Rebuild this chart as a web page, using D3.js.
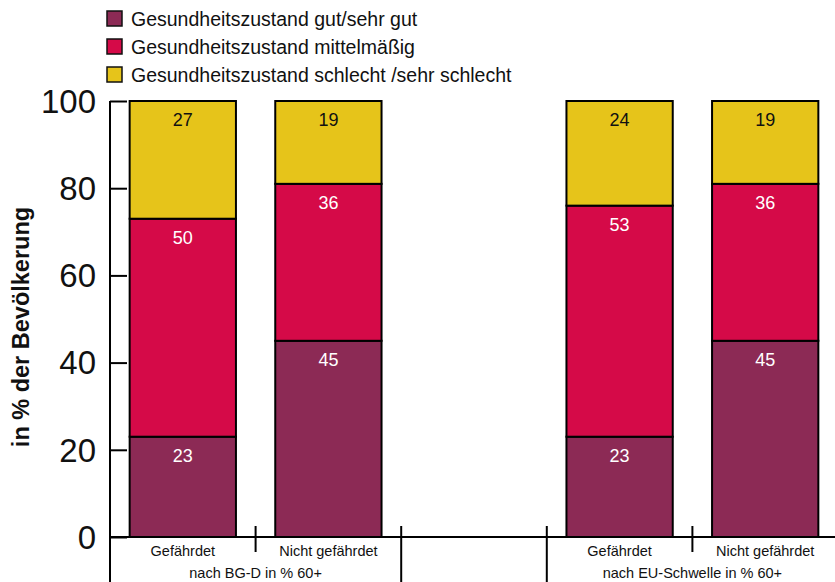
<!DOCTYPE html>
<html>
<head>
<meta charset="utf-8">
<script src="https://cdn.jsdelivr.net/npm/d3@7"></script>
<style>
  body { margin: 0; background: #fff; }
  text { font-family: "Liberation Sans", Arial, sans-serif; }
</style>
</head>
<body>
<script>
const categories = ['Gefährdet', 'Nicht gefährdet', '', 'Gefährdet', 'Nicht gefährdet'];
const groups = ['nach BG-D in % 60+', 'nach EU-Schwelle in % 60+'];
const seriesNames = [
  'Gesundheitszustand gut/sehr gut',
  'Gesundheitszustand mittelmäßig',
  'Gesundheitszustand schlecht /sehr schlecht',
];
const gut = [23, 45, null, 23, 45];
const mittel = [50, 36, null, 53, 36];
const schlecht = [27, 19, null, 24, 19];
const yTicks = [0, 20, 40, 60, 80, 100];

const colors = ['#8c2a55', '#d50a48', '#e6c41a'];
const labelColors = ['#fff', '#fff', '#111'];

const width = 835;
const height = 582;

const svg = d3.select('body')
  .append('svg')
  .attr('width', width)
  .attr('height', height);

const keys = categories.map((c, i) => `k${i}`);
const x = d3.scaleBand()
  .domain(keys)
  .range([110, 838])
  .paddingInner(0.27)
  .paddingOuter(0.135);

const bandStep = (838 - 110) / 5;
const y = d3.scaleLinear()
  .domain([0, 100])
  .range([537, 101]);

// stacked data
const rows = keys.map((k, i) => ({
  key: k, s0: gut[i], s1: mittel[i], s2: schlecht[i],
})).filter((d) => d.s0 !== null);
const stack = d3.stack().keys(['s0', 's1', 's2'])(rows);

// y axis (ticks pointing inward)
const yAxis = d3.axisRight(y).tickValues(yTicks).tickSize(17).tickFormat('');
const yg = svg.append('g')
  .attr('transform', 'translate(110,0)')
  .call(yAxis);
yg.select('.domain').remove();
yg.selectAll('.tick line').attr('stroke', '#000').attr('stroke-width', 2);
svg.append('line')
  .attr('x1', 110).attr('x2', 110)
  .attr('y1', y(100)).attr('y2', 582)
  .attr('stroke', '#000').attr('stroke-width', 2);

svg.selectAll('.ylab')
  .data(yTicks)
  .enter().append('text')
  .attr('class', 'ylab')
  .attr('x', 96)
  .attr('y', (d) => y(d))
  .attr('dy', '0.36em')
  .attr('text-anchor', 'end')
  .style('font-size', '33px')
  .attr('fill', '#111')
  .text((d) => d);

svg.append('text')
  .attr('transform', 'translate(29,327) rotate(-90)')
  .attr('text-anchor', 'middle')
  .style('font-size', '23.5px')
  .style('font-weight', 'bold')
  .attr('fill', '#111')
  .text('in % der Bevölkerung');

// bars
const layer = svg.selectAll('.layer')
  .data(stack)
  .enter().append('g')
  .attr('class', 'layer');

layer.selectAll('rect')
  .data((d, i) => d.map((p) => ({ p, i })))
  .enter().append('rect')
  .attr('x', (d) => x(d.p.data.key))
  .attr('width', x.bandwidth())
  .attr('y', (d) => y(d.p[1]))
  .attr('height', (d) => y(d.p[0]) - y(d.p[1]))
  .attr('fill', (d) => colors[d.i])
  .attr('stroke', '#000')
  .attr('stroke-width', 2);

layer.selectAll('text')
  .data((d, i) => d.map((p) => ({ p, i })))
  .enter().append('text')
  .attr('x', (d) => x(d.p.data.key) + x.bandwidth() / 2)
  .attr('y', (d) => y(d.p[1]) + 25)
  .attr('text-anchor', 'middle')
  .style('font-size', '18px')
  .attr('fill', (d) => labelColors[d.i])
  .text((d) => d.p[1] - d.p[0]);

// baseline
svg.append('line')
  .attr('x1', 110).attr('x2', 835)
  .attr('y1', y(0)).attr('y2', y(0))
  .attr('stroke', '#000').attr('stroke-width', 2);

// category separators
const seps = [1, 2, 3, 4].map((i) => ({ pos: 110 + bandStep * i, long: i === 2 || i === 3 }));
svg.selectAll('.sep')
  .data(seps)
  .enter().append('line')
  .attr('class', 'sep')
  .attr('x1', (d) => d.pos).attr('x2', (d) => d.pos)
  .attr('y1', 526)
  .attr('y2', (d) => (d.long ? 582 : 552))
  .attr('stroke', '#000').attr('stroke-width', 2);

// category labels
svg.selectAll('.cat')
  .data(categories.map((c, i) => ({ c, k: keys[i] })))
  .enter().append('text')
  .attr('class', 'cat')
  .attr('x', (d) => x(d.k) + x.bandwidth() / 2)
  .attr('y', 556)
  .attr('text-anchor', 'middle')
  .style('font-size', '14.5px')
  .attr('fill', '#111')
  .text((d) => d.c);

// group labels
svg.selectAll('.grp')
  .data(groups)
  .enter().append('text')
  .attr('class', 'grp')
  .attr('x', (d, i) => 110 + bandStep * (i === 0 ? 1 : 4))
  .attr('y', 578)
  .attr('text-anchor', 'middle')
  .style('font-size', '14.5px')
  .attr('fill', '#111')
  .text((d) => d);

// legend
const legend = svg.selectAll('.legend')
  .data(seriesNames)
  .enter().append('g')
  .attr('class', 'legend')
  .attr('transform', (d, i) => `translate(107,${11 + i * 28})`);

legend.append('rect')
  .attr('width', 15)
  .attr('height', 15)
  .attr('fill', (d, i) => colors[i])
  .attr('stroke', '#111')
  .attr('stroke-width', 1.5);

legend.append('text')
  .attr('x', 24)
  .attr('y', 7.5)
  .attr('dy', '0.36em')
  .style('font-size', '19.5px')
  .attr('fill', '#111')
  .text((d) => d);
</script>
</body>
</html>
